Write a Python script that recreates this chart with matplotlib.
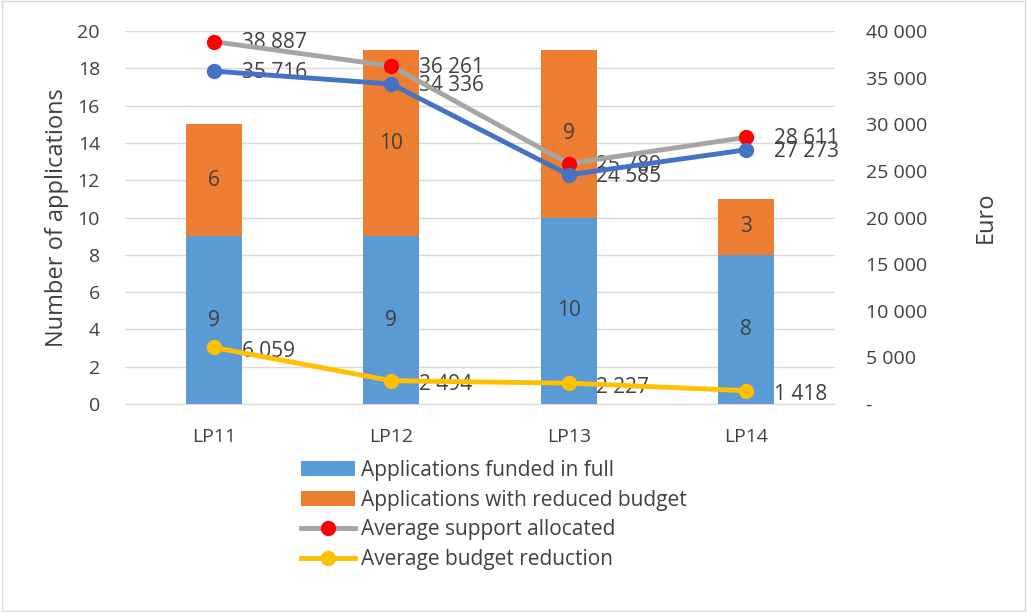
import numpy as np
import matplotlib.pyplot as plt

plt.rcParams['font.family'] = ['Open Sans', 'DejaVu Sans']

# data
periods = ["LP11", "LP12", "LP13", "LP14"]
funded_full = [9, 9, 10, 8]
reduced_budget = [6, 10, 9, 3]
avg_support = [38887, 36261, 25789, 28611]
avg_requested = [35716, 34336, 24585, 27273]
avg_reduction = [6059, 2494, 2227, 1418]

TXT = '#404040'
FS = 15


def fmt_eur(v):
    if v == 0:
        return "-"
    return f"{int(v):,}".replace(",", " ")


fig = plt.figure(figsize=(10.27, 6.12), dpi=100)
ax = fig.add_axes([0.1217, 0.34, 0.6913, 0.609])
ax2 = ax.twinx()

x = np.arange(len(periods))
w = 0.315
b1 = ax.bar(x, funded_full, w, color='#5B9BD5', label='Applications funded in full', zorder=2)
b2 = ax.bar(x, reduced_budget, w, bottom=funded_full, color='#ED7D31',
            label='Applications with reduced budget', zorder=2)
for i in range(len(x)):
    ax.text(x[i], funded_full[i] / 2, str(funded_full[i]), ha='center', va='center',
            fontsize=FS, color=TXT, zorder=3)
    ax.text(x[i], funded_full[i] + reduced_budget[i] / 2, str(reduced_budget[i]),
            ha='center', va='center', fontsize=FS, color=TXT, zorder=3)

ax.set_ylim(0, 20)
ax.set_yticks(range(0, 21, 2))
ax.set_xlim(-0.5, 3.5)
ax.set_xticks(x)
ax.set_xticklabels(periods)
ax.yaxis.grid(True, color='#D9D9D9', linewidth=1)
ax.set_axisbelow(True)
ax.set_ylabel("Number of applications", fontsize=17, color=TXT, labelpad=6)

l1, = ax2.plot(x, avg_support, color='#A5A5A5', linewidth=3.5, marker='o',
               markersize=10, markerfacecolor='#FF0000', markeredgecolor='#FF0000',
               label='Average support allocated', zorder=4)
ax2.plot(x, avg_requested, color='#4472C4', linewidth=3.5, marker='o',
         markersize=10, markerfacecolor='#4472C4', markeredgecolor='#4472C4', zorder=4)
l3, = ax2.plot(x, avg_reduction, color='#FFC000', linewidth=3.5, marker='o',
               markersize=10, markerfacecolor='#FFC000', markeredgecolor='#FFC000',
               label='Average budget reduction', zorder=4)

for i in range(len(x)):
    ax2.annotate(fmt_eur(avg_support[i]), (x[i], avg_support[i]), xytext=(20, -1),
                 textcoords='offset points', ha='left', va='center', fontsize=FS, color=TXT)
    ax2.annotate(fmt_eur(avg_requested[i]), (x[i], avg_requested[i]), xytext=(20, -1),
                 textcoords='offset points', ha='left', va='center', fontsize=FS, color=TXT)
    ax2.annotate(fmt_eur(avg_reduction[i]), (x[i], avg_reduction[i]), xytext=(20, -3),
                 textcoords='offset points', ha='left', va='center', fontsize=FS, color=TXT)

ax2.set_ylim(0, 40000)
ax2.set_yticks(range(0, 40001, 5000))
ax2.set_yticklabels([fmt_eur(v) for v in range(0, 40001, 5000)])
ax2.set_ylabel("Euro", fontsize=17, color=TXT, labelpad=34)

for a in (ax, ax2):
    for s in a.spines.values():
        s.set_visible(False)
    a.tick_params(length=0, labelsize=14, colors=TXT)
ax.spines['bottom'].set_visible(True)
ax.spines['bottom'].set_color('#D9D9D9')
ax.tick_params(axis='y', pad=18)
ax2.tick_params(axis='y', pad=22)
ax.tick_params(axis='x', pad=17)

fig.legend([b1, b2, l1, l3],
           [b1.get_label(), b2.get_label(), l1.get_label(), l3.get_label()],
           loc='upper left', bbox_to_anchor=(0.285, 0.262), frameon=False,
           fontsize=FS, labelcolor=TXT, handlelength=2.6, handletextpad=0.3,
           labelspacing=0.42, borderaxespad=0)

fig.patches.append(plt.Rectangle((0.002, 0.002), 0.996, 0.996, transform=fig.transFigure,
                                 fill=False, edgecolor='#D9D9D9', linewidth=1))

fig.savefig("out.png", dpi=100)
